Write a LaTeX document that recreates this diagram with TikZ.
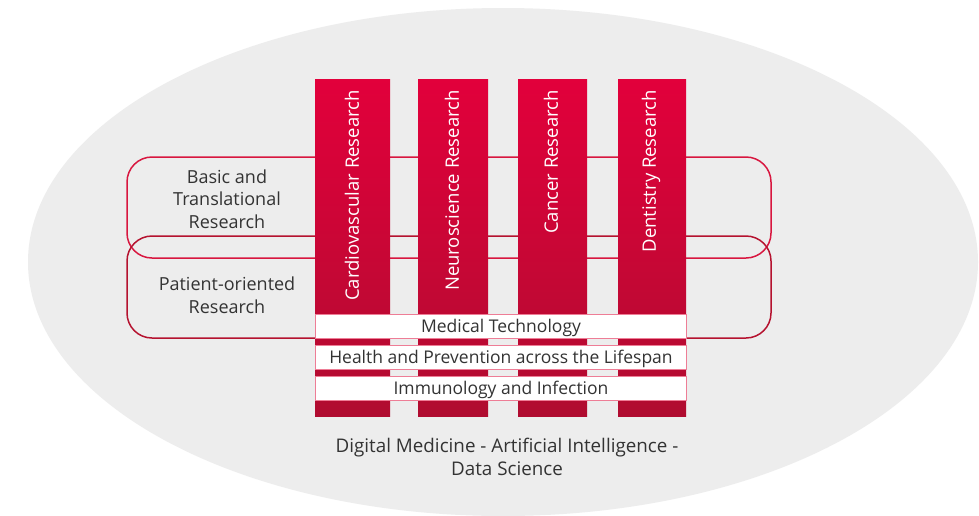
\documentclass[tikz,border=0pt]{standalone}
\usepackage{fontspec}
\setmainfont{Open Sans}
\definecolor{bgray}{HTML}{EDEDED}
\definecolor{redtop}{HTML}{E2003B}
\definecolor{redbot}{HTML}{B00C30}
\definecolor{ringA}{HTML}{D8163F}
\definecolor{ringB}{HTML}{B5122F}
\definecolor{strip}{HTML}{EE7D96}
\definecolor{txt}{HTML}{333333}
\tikzset{
  bar/.style={top color=redtop, bottom color=redbot, draw=none},
  ring/.style={line width=1.5pt, rounded corners=25pt},
  stripbox/.style={fill=white, draw=strip, line width=1pt},
  striptext/.style={font=\fontsize{17.5}{20}\selectfont, text=txt, anchor=base, inner sep=0pt},
  lbl/.style={font=\fontsize{18}{22.5}\selectfont, text=txt, align=center},
  bartext/.style={font=\fontsize{18.5}{20}\selectfont, text=white, rotate=90, anchor=east, inner sep=0pt}
}
\begin{document}
\begin{tikzpicture}[x=1pt,y=-1pt]
\useasboundingbox (0,0) rectangle (979,515);
\fill[white] (0,0) rectangle (979,515);
\begin{scope}
\clip (0,0) rectangle (979,515);
\fill[bgray] (503,262) ellipse [x radius=475, y radius=254];
\end{scope}
% rings
\draw[ring, draw=ringA] (127,157) rectangle (771,258);
\draw[ring, draw=ringB] (127,236) rectangle (771,338);
% bars
\fill[bar] (315,79) rectangle (390,416);
\fill[bar] (418,79) rectangle (488,416);
\fill[bar] (518,79) rectangle (587,416);
\fill[bar] (618,79) rectangle (686,416);
% bar texts
\node[bartext] (cardio) at (352,90) {Cardiovascular Research};
\node[bartext] (neuro) at (452,90) {Neuroscience Research};
\node[bartext] (cancer) at (551,90) {Cancer Research};
\node[bartext] (dent) at (651,90) {Dentistry Research};
% strips
\draw[stripbox] (315,314) rectangle (686,338);
\node[striptext] (medtech) at (501,332.5) {Medical Technology};
\draw[stripbox] (315,345) rectangle (686,369);
\node[striptext] (health) at (501,363.5) {Health and Prevention across the Lifespan};
\draw[stripbox] (315,376) rectangle (686,400);
\node[striptext] (immuno) at (501,394.5) {Immunology and Infection};
% labels
\node[lbl] (basic) at (227,199) {Basic and\\Translational\\Research};
\node[lbl] (patient) at (227,295) {Patient-oriented\\Research};
\node[lbl, font=\fontsize{18.8}{22.5}\selectfont] (digital) at (507,457) {Digital Medicine - Artificial Intelligence -\\Data Science};
\end{tikzpicture}
\end{document}
